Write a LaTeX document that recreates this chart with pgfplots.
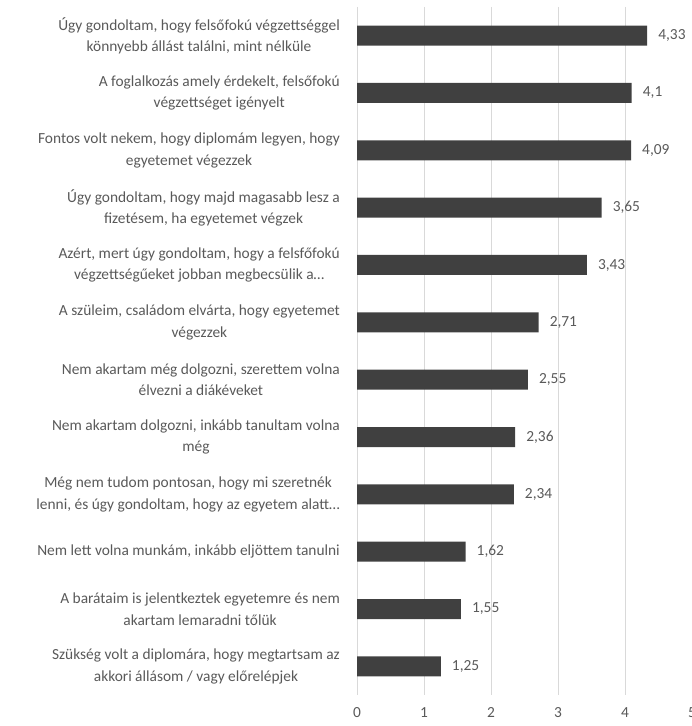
\documentclass[border=0pt]{standalone}
\usepackage{pgfplots}
\pgfplotsset{compat=1.18}
\usepackage{fontspec}
\setmainfont{Carlito}
\definecolor{bardark}{HTML}{404040}
\definecolor{txt}{HTML}{595959}
\definecolor{gridc}{HTML}{D9D9D9}
\begin{document}
\begin{tikzpicture}[x=1bp,y=1bp]
\begin{axis}[
    at={(357bp,31bp)}, anchor=south west,
    scale only axis, width=335bp, height=688bp,
    xbar, bar width=20bp,
    xmin=0, xmax=5, ymin=-0.5, ymax=11.5, y dir=reverse,
    xtick={0,1,2,3,4,5}, ytick={0,...,11},
    yticklabels={
        {Úgy gondoltam, hogy felsőfokú végzettséggel\\könnyebb állást találni, mint nélküle},
        {A foglalkozás amely érdekelt, felsőfokú\\végzettséget igényelt},
        {Fontos volt nekem, hogy diplomám legyen, hogy\\egyetemet végezzek},
        {Úgy gondoltam, hogy majd magasabb lesz a\\fizetésem, ha egyetemet végzek},
        {Azért, mert úgy gondoltam, hogy a felsfőfokú\\végzettségűeket jobban megbecsülik a…},
        {A szüleim, családom elvárta, hogy egyetemet\\végezzek},
        {Nem akartam még dolgozni, szerettem volna\\élvezni a diákéveket},
        {Nem akartam dolgozni, inkább tanultam volna\\még},
        {Még nem tudom pontosan, hogy mi szeretnék\\lenni, és úgy gondoltam, hogy az egyetem alatt…},
        {Nem lett volna munkám, inkább eljöttem tanulni},
        {A barátaim is jelentkeztek egyetemre és nem\\akartam lemaradni tőlük},
        {Szükség volt a diplomára, hogy megtartsam az\\akkori állásom / vagy előrelépjek}
    },
    axis line style={draw=none},
    major tick length=0pt,
    xmajorgrids, major grid style={draw=gridc, line width=0.9bp},
    yticklabel style={align=center, inner sep=0pt, xshift=-17bp, text=txt,
        font=\fontsize{15.4bp}{21.5bp}\selectfont},
    xticklabel style={inner sep=0pt, yshift=-12bp, text=txt,
        font=\fontsize{15.4bp}{18bp}\selectfont},
    /pgf/number format/assume math mode=true,
    point meta=explicit symbolic,
    nodes near coords,
    nodes near coords style={anchor=west, inner sep=0pt, xshift=11bp, text=txt,
        font=\fontsize{15.4bp}{18bp}\selectfont},
]
\addplot[fill=bardark, draw=none] coordinates {
    (4.33,0) [4,33]
    (4.10,1) [4,1]
    (4.09,2) [4,09]
    (3.65,3) [3,65]
    (3.43,4) [3,43]
    (2.71,5) [2,71]
    (2.55,6) [2,55]
    (2.36,7) [2,36]
    (2.34,8) [2,34]
    (1.62,9) [1,62]
    (1.55,10) [1,55]
    (1.25,11) [1,25]
};
\end{axis}
\pgfresetboundingbox
\path (0,0) rectangle (692,726);
\end{tikzpicture}
\end{document}
